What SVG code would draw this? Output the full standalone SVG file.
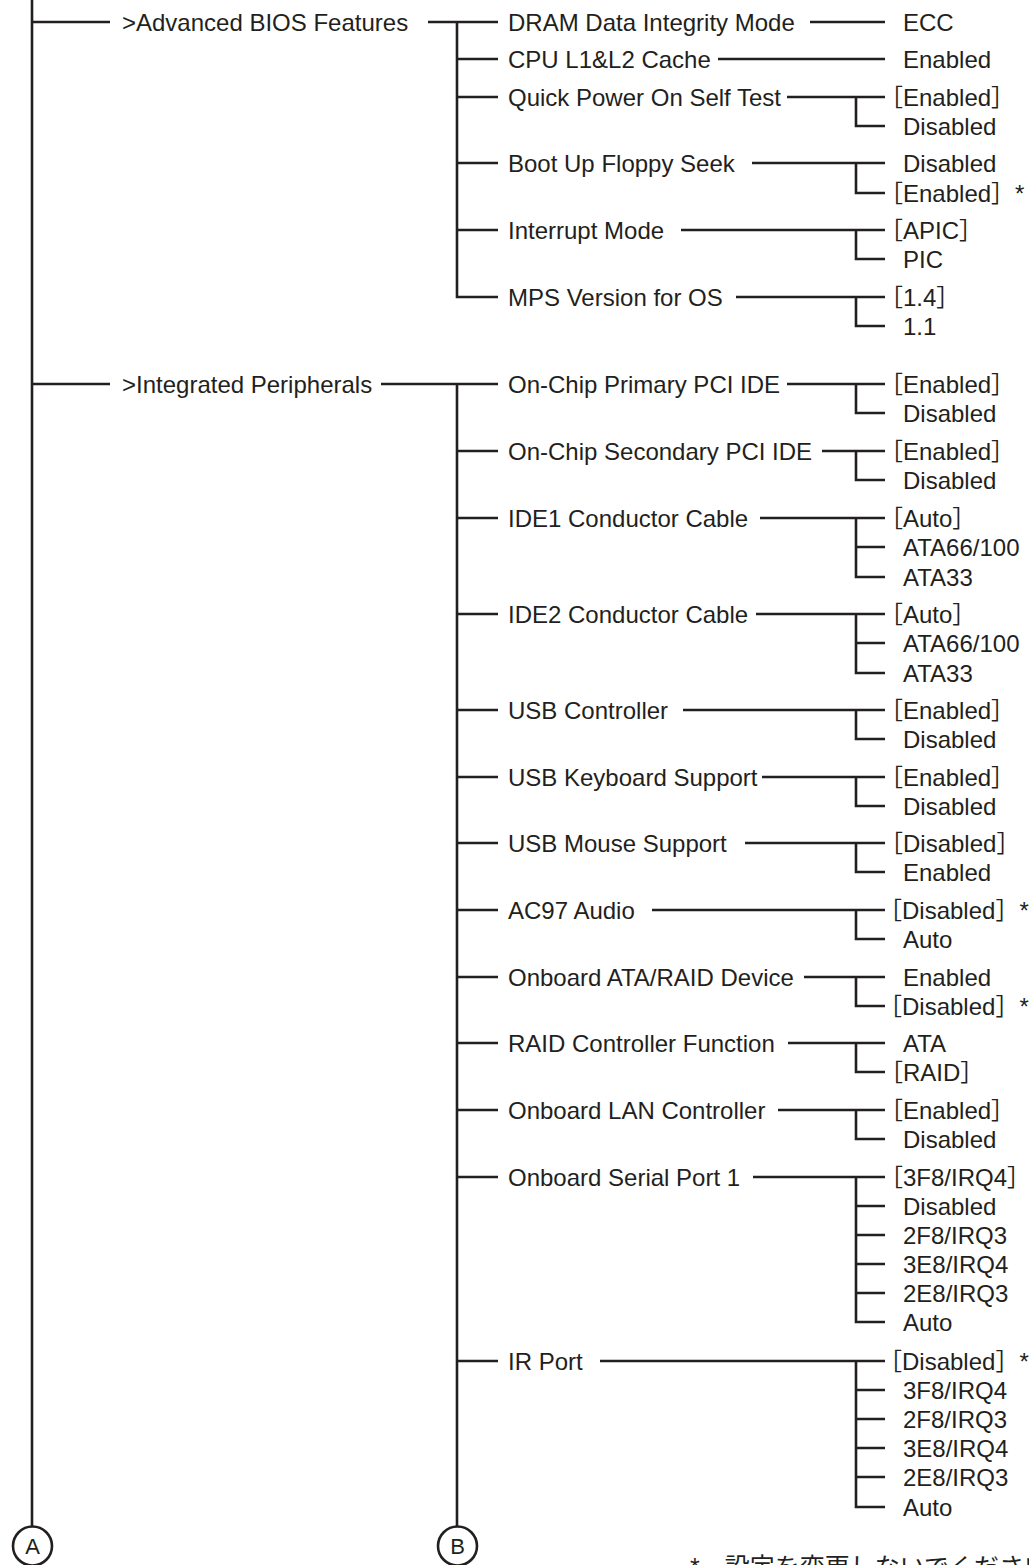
<svg xmlns="http://www.w3.org/2000/svg" width="1029" height="1565" viewBox="0 0 1029 1565">
<style>
.t{font-family:"Liberation Sans","Noto Sans CJK JP",Arial,sans-serif;font-size:24px;fill:#231f20}
.j{font-family:"Liberation Sans","Noto Sans CJK JP",sans-serif;font-size:25px;fill:#231f20}
.c{font-family:"Liberation Sans",Arial,sans-serif;font-size:22px;fill:#231f20;text-anchor:middle}
.l{stroke:#231f20;stroke-width:2.6;fill:none}
</style>
<rect width="1029" height="1565" fill="#ffffff"/>
<g id="connectors" class="l">
<path d="M32 0V1526M32 22H110M32 384H110"/>
<path d="M428 22H498M457 22V297H498M457 59H498M457 97H498M457 163H498M457 230H498"/>
<path d="M381 384H498M457 384V1526M457 451H498M457 518H498M457 614H498M457 710H498M457 777H498M457 843H498M457 910H498M457 977H498M457 1043H498M457 1110H498M457 1177H498M457 1361H498"/>
<path d="M810 22H885M718 59H885"/>
<path d="M787 97H885M856 97V126H885"/>
<path d="M752 163H885M856 163V193H885"/>
<path d="M681 230H885M856 230V259H885"/>
<path d="M736 297H885M856 297V326H885"/>
<path d="M787 384H885M856 384V413H885"/>
<path d="M822 451H885M856 451V480H885"/>
<path d="M760 518H885M856 518V577H885M856 547H885"/>
<path d="M756 614H885M856 614V673H885M856 643H885"/>
<path d="M683 710H885M856 710V739H885"/>
<path d="M762 777H885M856 777V806H885"/>
<path d="M745 843H885M856 843V872H885"/>
<path d="M652 910H885M856 910V939H885"/>
<path d="M804 977H885M856 977V1006H885"/>
<path d="M788 1043H885M856 1043V1072H885"/>
<path d="M778 1110H885M856 1110V1139H885"/>
<path d="M753 1177H885M856 1177V1322H885M856 1206H885M856 1235H885M856 1264H885M856 1293H885"/>
<path d="M600 1361H885M856 1361V1507H885M856 1390H885M856 1419H885M856 1448H885M856 1477H885"/>
</g>
<g id="node-A"><circle class="l" cx="32.5" cy="1546" r="19.5"/><text class="c" x="32.5" y="1554">A</text></g>
<g id="node-B"><circle class="l" cx="457.5" cy="1546" r="19.5"/><text class="c" x="457.5" y="1554">B</text></g>
<g id="node-advanced"><text class="t" x="122" y="30.5">&gt;Advanced BIOS Features</text></g>
<g id="node-integrated"><text class="t" x="122" y="392.5">&gt;Integrated Peripherals</text></g>
<g id="node-dram"><text class="t" x="508" y="30.5">DRAM Data Integrity Mode</text><text class="t" x="903" y="30.5">ECC</text></g>
<g id="node-cpu"><text class="t" x="508" y="67.5">CPU L1&amp;L2 Cache</text><text class="t" x="903" y="67.5">Enabled</text></g>
<g id="node-quick"><text class="t" x="508" y="105.5">Quick Power On Self Test</text><text class="t" x="879" y="105.5">［Enabled］</text><text class="t" x="903" y="134.5">Disabled</text></g>
<g id="node-boot"><text class="t" x="508" y="171.5">Boot Up Floppy Seek</text><text class="t" x="903" y="171.5">Disabled</text><text class="t" x="879" y="201.5">［Enabled］*</text></g>
<g id="node-interrupt"><text class="t" x="508" y="238.5">Interrupt Mode</text><text class="t" x="879" y="238.5">［APIC］</text><text class="t" x="903" y="267.5">PIC</text></g>
<g id="node-mps"><text class="t" x="508" y="305.5">MPS Version for OS</text><text class="t" x="879" y="305.5">［1.4］</text><text class="t" x="903" y="334.5">1.1</text></g>
<g id="node-primary"><text class="t" x="508" y="392.5">On-Chip Primary PCI IDE</text><text class="t" x="879" y="392.5">［Enabled］</text><text class="t" x="903" y="421.5">Disabled</text></g>
<g id="node-secondary"><text class="t" x="508" y="459.5">On-Chip Secondary PCI IDE</text><text class="t" x="879" y="459.5">［Enabled］</text><text class="t" x="903" y="488.5">Disabled</text></g>
<g id="node-ide1"><text class="t" x="508" y="526.5">IDE1 Conductor Cable</text><text class="t" x="879" y="526.5">［Auto］</text><text class="t" x="903" y="555.5">ATA66/100</text><text class="t" x="903" y="585.5">ATA33</text></g>
<g id="node-ide2"><text class="t" x="508" y="622.5">IDE2 Conductor Cable</text><text class="t" x="879" y="622.5">［Auto］</text><text class="t" x="903" y="651.5">ATA66/100</text><text class="t" x="903" y="681.5">ATA33</text></g>
<g id="node-usbctrl"><text class="t" x="508" y="718.5">USB Controller</text><text class="t" x="879" y="718.5">［Enabled］</text><text class="t" x="903" y="747.5">Disabled</text></g>
<g id="node-usbkbd"><text class="t" x="508" y="785.5">USB Keyboard Support</text><text class="t" x="879" y="785.5">［Enabled］</text><text class="t" x="903" y="814.5">Disabled</text></g>
<g id="node-usbmouse"><text class="t" x="508" y="851.5">USB Mouse Support</text><text class="t" x="879" y="851.5">［Disabled］</text><text class="t" x="903" y="880.5">Enabled</text></g>
<g id="node-ac97"><text class="t" x="508" y="918.5">AC97 Audio</text><text class="t" x="878" y="918.5">［Disabled］*</text><text class="t" x="903" y="947.5">Auto</text></g>
<g id="node-atraid"><text class="t" x="508" y="985.5">Onboard ATA/RAID Device</text><text class="t" x="903" y="985.5">Enabled</text><text class="t" x="878" y="1014.5">［Disabled］*</text></g>
<g id="node-raidctrl"><text class="t" x="508" y="1051.5">RAID Controller Function</text><text class="t" x="903" y="1051.5">ATA</text><text class="t" x="879" y="1080.5">［RAID］</text></g>
<g id="node-lan"><text class="t" x="508" y="1118.5">Onboard LAN Controller</text><text class="t" x="879" y="1118.5">［Enabled］</text><text class="t" x="903" y="1147.5">Disabled</text></g>
<g id="node-serial"><text class="t" x="508" y="1185.5">Onboard Serial Port 1</text><text class="t" x="879" y="1185.5">［3F8/IRQ4］</text><text class="t" x="903" y="1214.5">Disabled</text><text class="t" x="903" y="1243.5">2F8/IRQ3</text><text class="t" x="903" y="1272.5">3E8/IRQ4</text><text class="t" x="903" y="1301.5">2E8/IRQ3</text><text class="t" x="903" y="1330.5">Auto</text></g>
<g id="node-ir"><text class="t" x="508" y="1369.5">IR Port</text><text class="t" x="878" y="1369.5">［Disabled］*</text><text class="t" x="903" y="1398.5">3F8/IRQ4</text><text class="t" x="903" y="1427.5">2F8/IRQ3</text><text class="t" x="903" y="1456.5">3E8/IRQ4</text><text class="t" x="903" y="1485.5">2E8/IRQ3</text><text class="t" x="903" y="1515.5">Auto</text></g>
<g id="note"><text class="j" x="690" y="1576">*　設定を変更しないでください</text></g>
</svg>
